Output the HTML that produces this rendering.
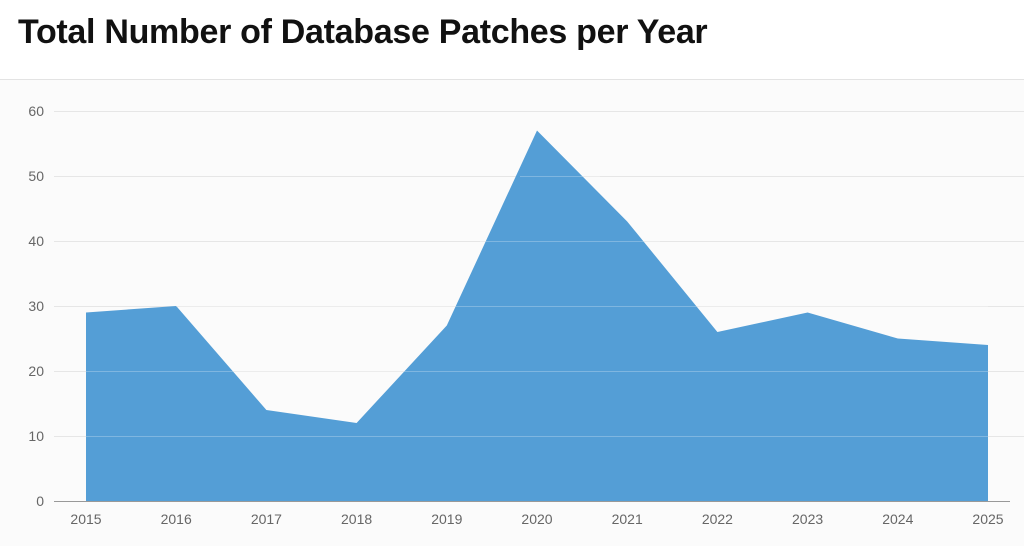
<!DOCTYPE html>
<html><head><meta charset="utf-8"><style>
html,body{margin:0;padding:0;background:#fff;}
body{width:1024px;height:546px;overflow:hidden;position:relative;font-family:"Liberation Sans",sans-serif;}
.t{position:absolute;left:18px;top:13px;font-size:34px;font-weight:bold;color:#111;letter-spacing:-0.3px;}
</style></head><body>
<div class="t">Total Number of Database Patches per Year</div>
<svg width="1024" height="546" style="position:absolute;left:0;top:0">
<rect x="0" y="79" width="1024" height="467" fill="#fbfbfb"/>
<line x1="0" y1="79.5" x2="1024" y2="79.5" stroke="#e3e3e3"/>
<g stroke="#e6e6e6" stroke-width="1">
<line x1="54" y1="111.5" x2="1024" y2="111.5"/>
<line x1="54" y1="176.5" x2="1024" y2="176.5"/>
<line x1="54" y1="241.5" x2="1024" y2="241.5"/>
<line x1="54" y1="306.5" x2="1024" y2="306.5"/>
<line x1="54" y1="371.5" x2="1024" y2="371.5"/>
<line x1="54" y1="436.5" x2="1024" y2="436.5"/>
</g>
<polygon fill="#549ed6" points="86,501 86,312.5 176.2,306 266.4,410 356.6,423 446.8,325.5 537,130.5 627.2,221.5 717.4,332 807.6,312.5 897.8,338.5 988,345 988,501"/>
<g stroke="rgba(255,255,255,0.25)" stroke-width="1">
<line x1="86" y1="371.5" x2="988" y2="371.5"/>
<line x1="86" y1="436.5" x2="988" y2="436.5"/>
<line x1="176" y1="306.5" x2="988" y2="306.5"/>
<line x1="480" y1="241.5" x2="660" y2="241.5"/>
<line x1="520" y1="176.5" x2="600" y2="176.5"/>
</g>
<line x1="54" y1="501.5" x2="1010" y2="501.5" stroke="#999"/>
<g font-size="14" fill="#666" text-anchor="end">
<text x="44" y="116">60</text><text x="44" y="181">50</text><text x="44" y="246">40</text>
<text x="44" y="311">30</text><text x="44" y="376">20</text><text x="44" y="441">10</text><text x="44" y="506">0</text>
</g>
<g font-size="14" fill="#666" text-anchor="middle">
<text x="86" y="524">2015</text><text x="176.2" y="524">2016</text><text x="266.4" y="524">2017</text>
<text x="356.6" y="524">2018</text><text x="446.8" y="524">2019</text><text x="537" y="524">2020</text>
<text x="627.2" y="524">2021</text><text x="717.4" y="524">2022</text><text x="807.6" y="524">2023</text>
<text x="897.8" y="524">2024</text><text x="988" y="524">2025</text>
</g>
</svg>
</body></html>
